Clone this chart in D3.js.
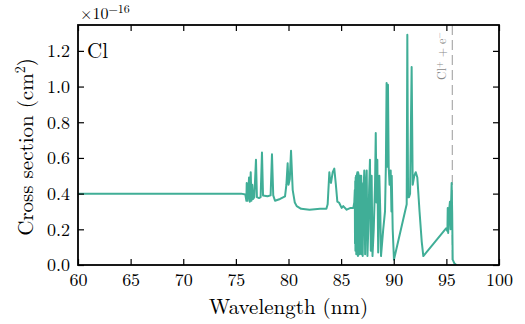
<!DOCTYPE html>
<html>
<head>
<meta charset="utf-8">
<script src="https://cdn.jsdelivr.net/npm/d3@7"></script>
<style>
  body { margin: 0; background: #fff; }
  svg text { font-family: "Latin Modern Roman", "CMU Serif", "Liberation Serif", serif; fill: #000; }
</style>
</head>
<body>
<svg id="chart" width="525" height="324"></svg>
<script>
// wavelength (nm) and cross section (x1e-16 cm^2)
const wavelength = [
  60, 75.5, 75.9, 76.0, 76.03, 76.1, 76.18, 76.25, 76.32, 76.41, 76.48, 76.56, 76.64, 76.75,
  76.91, 77.0, 77.2, 77.35, 77.48, 77.58, 78.0, 78.3, 78.43, 78.55, 78.72, 79.2, 79.67, 79.8,
  79.92, 80.0, 80.12, 80.24, 80.4, 80.6, 80.78, 81.2, 82.0, 83.0, 83.6, 83.72, 83.88, 83.96,
  84.04, 84.2, 84.35, 84.5, 84.64, 84.8, 85.05, 85.2, 85.53, 85.9, 86.16, 86.25,
  86.3, 86.32, 86.34, 86.36, 86.38, 86.4, 86.42, 86.44, 86.46, 86.48, 86.5, 86.52, 86.54,
  86.56, 86.58, 86.6, 86.62, 86.64, 86.66, 86.68, 86.7, 86.72, 86.74, 86.76, 86.78, 86.8,
  86.82, 86.84, 86.86, 86.89, 86.91, 86.94, 86.96, 86.98, 87.05, 87.12, 87.2, 87.28, 87.36,
  87.43, 87.5, 87.58, 87.66, 87.74, 87.82, 87.9, 87.98, 88.1, 88.22, 88.29, 88.36, 88.44,
  88.52, 88.63, 88.72, 88.79, 89.0, 89.17, 89.25, 89.32, 89.38, 89.45, 89.52, 89.6, 89.71,
  89.78, 89.81, 89.9, 90.02, 91.23, 91.29, 91.36, 91.45, 91.55, 91.7, 91.8, 91.95, 92.09,
  92.24, 92.45, 92.66, 92.81, 94.97, 95.1, 95.13, 95.17, 95.25, 95.34, 95.4, 95.45, 95.5,
  95.55, 95.6, 95.75, 95.95
];
const crossSection = [
  0.40, 0.40, 0.395, 0.36, 0.46, 0.36, 0.40, 0.49, 0.355, 0.52, 0.36, 0.45, 0.37, 0.38,
  0.59, 0.38, 0.375, 0.38, 0.63, 0.39, 0.385, 0.39, 0.62, 0.39, 0.36, 0.37, 0.385, 0.45,
  0.57, 0.45, 0.48, 0.64, 0.42, 0.35, 0.33, 0.315, 0.31, 0.315, 0.315, 0.34, 0.52, 0.47,
  0.46, 0.52, 0.54, 0.45, 0.355, 0.35, 0.32, 0.33, 0.31, 0.32, 0.32, 0.35,
  0.42, 0.12, 0.47, 0.08, 0.49, 0.14, 0.50, 0.06, 0.48, 0.10, 0.51, 0.07, 0.52,
  0.11, 0.50, 0.05, 0.52, 0.09, 0.51, 0.06, 0.49, 0.12, 0.50, 0.06, 0.48, 0.10,
  0.50, 0.07, 0.49, 0.13, 0.50, 0.06, 0.46, 0.42, 0.05, 0.40, 0.53, 0.06, 0.45,
  0.53, 0.05, 0.20, 0.42, 0.59, 0.08, 0.50, 0.05, 0.20, 0.45, 0.74, 0.35, 0.59,
  0.07, 0.50, 0.30, 0.05, 0.20, 0.30, 0.55, 1.02, 0.55, 1.01, 0.55, 0.45, 0.53,
  0.30, 0.50, 0.20, 0.03, 0.34, 1.29, 0.38, 0.38, 0.40, 1.11, 0.45, 0.50, 0.52,
  0.49, 0.30, 0.13, 0.05, 0.205, 0.19, 0.32, 0.18, 0.30, 0.355, 0.20, 0.35, 0.46,
  0.30, 0.03, 0.01, 0.0
];
const xTicks = [60, 65, 70, 75, 80, 85, 90, 95, 100];
const yTicks = [0.0, 0.2, 0.4, 0.6, 0.8, 1.0, 1.2];
const ionLimit = 95.56;

const margin = { top: 25, right: 26, bottom: 59, left: 78 };
const W = 525, H = 324;
const w = W - margin.left - margin.right;
const h = H - margin.top - margin.bottom;

const svg = d3.select('#chart');
const g = svg.append('g').attr('transform', `translate(${margin.left},${margin.top})`);

const x = d3.scaleLinear().domain([60, 100]).range([0, w]);
const y = d3.scaleLinear().domain([0, 1.345]).range([h, 0]);

const data = wavelength.map((d, i) => ({ wl: d, cs: crossSection[i] }));

g.append('defs').append('clipPath').attr('id', 'clip')
  .append('rect').attr('width', w).attr('height', h);

// dashed ionisation limit
g.append('line')
  .attr('x1', x(ionLimit)).attr('x2', x(ionLimit))
  .attr('y1', 0).attr('y2', h)
  .attr('stroke', '#9a9a9a').attr('stroke-width', 1)
  .attr('stroke-dasharray', '10,5');

g.append('text')
  .attr('transform', `translate(${x(ionLimit) - 6},7) rotate(-90)`)
  .attr('text-anchor', 'end')
  .style('font-size', '12px').style('fill', '#8a8a8a')
  .call(t => {
    t.append('tspan').text('Cl');
    t.append('tspan').attr('dy', -4).style('font-size', '8.5px').text('+');
    t.append('tspan').attr('dy', 4).text(' + e');
    t.append('tspan').attr('dy', -4).style('font-size', '8.5px').text('−');
  });

// spectrum
const line = d3.line().x(d => x(d.wl)).y(d => y(d.cs));
g.append('path')
  .datum(data)
  .attr('clip-path', 'url(#clip)')
  .attr('fill', 'none')
  .attr('stroke', '#40ae97')
  .attr('stroke-width', 2)
  .attr('stroke-linejoin', 'round')
  .attr('d', line);

// axes: ticks inside on all four sides
const tk = 6;
g.append('g').attr('transform', `translate(0,${h})`)
  .call(d3.axisBottom(x).tickValues(xTicks).tickSizeInner(-tk).tickSizeOuter(0).tickPadding(8).tickFormat(d3.format('d')));
g.append('g')
  .call(d3.axisTop(x).tickValues(xTicks).tickSizeInner(-tk).tickSizeOuter(0).tickFormat(''));
g.append('g')
  .call(d3.axisLeft(y).tickValues(yTicks).tickSizeInner(-tk).tickSizeOuter(0).tickPadding(8).tickFormat(d3.format('.1f')));
g.append('g').attr('transform', `translate(${w},0)`)
  .call(d3.axisRight(y).tickValues(yTicks).tickSizeInner(-tk).tickSizeOuter(0).tickFormat(''));

g.selectAll('.domain').remove();
g.selectAll('.tick line').attr('stroke', '#000').attr('stroke-width', 1.2);
g.selectAll('.tick text').style('font-size', '18px').attr('fill', '#000');

g.append('rect')
  .attr('width', w).attr('height', h)
  .attr('fill', 'none').attr('stroke', '#000').attr('stroke-width', 1.8);

// labels
g.append('text').attr('x', 9).attr('y', 33).style('font-size', '21px').text('Cl');

svg.append('text').attr('x', 80).attr('y', 19).style('font-size', '16px')
  .call(t => {
    t.append('tspan').text('×10');
    t.append('tspan').attr('dy', -6).style('font-size', '12px').text('−16');
  });

svg.append('text')
  .attr('x', margin.left + w / 2).attr('y', 314)
  .attr('text-anchor', 'middle').style('font-size', '21px')
  .text('Wavelength (nm)');

svg.append('text')
  .attr('transform', `translate(33,${margin.top + h / 2 + 2}) rotate(-90)`)
  .attr('text-anchor', 'middle').style('font-size', '21px')
  .call(t => {
    t.append('tspan').text('Cross section (cm');
    t.append('tspan').attr('dy', -8).style('font-size', '14px').text('2');
    t.append('tspan').attr('dy', 8).text(')');
  });
</script>
</body>
</html>
